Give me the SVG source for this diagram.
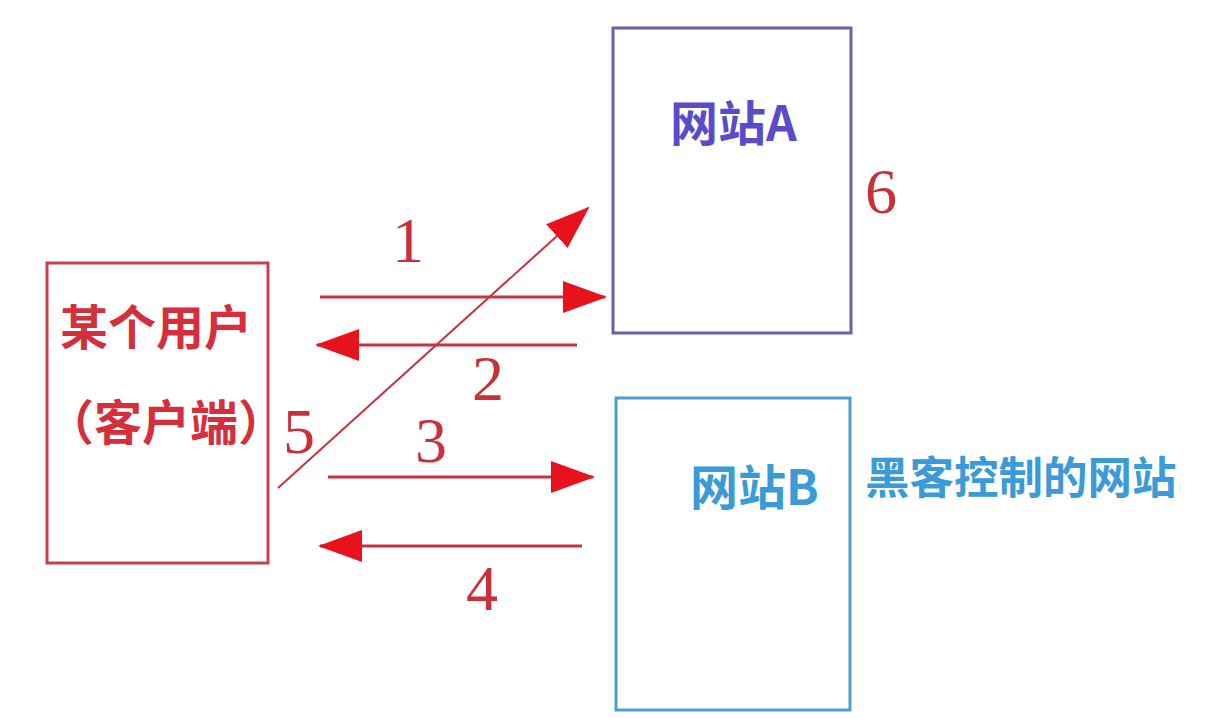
<svg xmlns="http://www.w3.org/2000/svg" width="1232" height="718" viewBox="0 0 1232 718">
  <style>
    .cjk { font-family: "Noto Sans CJK SC", "Noto Sans", sans-serif; font-weight: bold; }
    .num { font-family: "Liberation Serif", "DejaVu Serif", serif; font-size: 64px; fill: #c8303a; text-anchor: middle; }
    .conn { stroke: #c8323c; stroke-width: 3; fill: none; }
    .diag { stroke: #c8323c; stroke-width: 2; fill: none; }
  </style>
  <defs>
    <marker id="arrow" viewBox="0 0 44 32" refX="42" refY="16" markerWidth="44" markerHeight="32" markerUnits="userSpaceOnUse" orient="auto">
      <path d="M0,0 L44,16 L0,32 z" fill="#e8121c"/>
    </marker>
  </defs>
  <rect width="1232" height="718" fill="#ffffff"/>

  <g id="client">
    <rect x="47" y="263" width="221" height="300" fill="none" stroke="#c8404a" stroke-width="3"/>
    <text class="cjk" x="60" y="345" font-size="48" fill="#d4303c">某个用户</text>
    <text class="cjk" x="46" y="440" font-size="48" fill="#d4303c">（客户端）</text>
  </g>

  <g id="siteA">
    <rect x="613" y="28" width="238" height="305" fill="none" stroke="#6c5fae" stroke-width="3"/>
    <text class="cjk" x="670" y="141" font-size="48" fill="#5a4cc8">网站A</text>
  </g>

  <g id="siteB">
    <rect x="616" y="398" width="234" height="312" fill="none" stroke="#4b9fcf" stroke-width="3"/>
    <text class="cjk" x="690" y="505" font-size="48" fill="#3b9ad8">网站B</text>
  </g>

  <g id="note">
    <text class="cjk" x="865" y="494" font-size="44.5" fill="#3b9ad8">黑客控制的网站</text>
  </g>

  <g id="connectors">
    <line class="conn" x1="320" y1="297" x2="605" y2="297" marker-end="url(#arrow)"/>
    <line class="conn" x1="577" y1="345" x2="317" y2="345" marker-end="url(#arrow)"/>
    <line class="diag" x1="278" y1="488" x2="588" y2="208" marker-end="url(#arrow)"/>
    <line class="conn" x1="328" y1="477" x2="593" y2="477" marker-end="url(#arrow)"/>
    <line class="conn" x1="582" y1="546" x2="320" y2="546" marker-end="url(#arrow)"/>
  </g>

  <g id="labels">
    <text class="num" x="408" y="262">1</text>
    <text class="num" x="488" y="400">2</text>
    <text class="num" x="431" y="462">3</text>
    <text class="num" x="482" y="610">4</text>
    <text class="num" x="299" y="453">5</text>
    <text class="num" x="881" y="213">6</text>
  </g>
</svg>
